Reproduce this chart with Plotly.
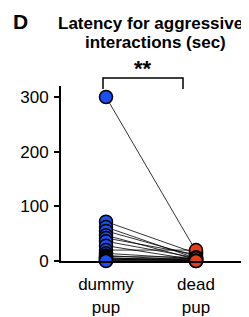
import plotly.graph_objects as go

categories = ["dummy<br>pup", "dead<br>pup"]
dummy_pup = [300, 72, 62, 55, 47, 42, 36, 28, 20, 14, 10, 8, 6, 5, 3, 2, 1, 0]
dead_pup = [18, 14, 5, 9, 3, 12, 6, 2, 20, 4, 1, 7, 0, 3, 2, 5, 1, 0]
y_ticks = [0, 100, 200, 300]

O = 8  # browser body margin offset
W, H = 249 - O, 317 - O
X0, XAX_END = 61, 243      # window px of y axis and x axis end
Y0, Y300 = 261, 97         # window px of value 0 and 300
TOPWIN = 86
XD, XR = 106, 196          # window px of categories

L = X0 - O
R = W - (XAX_END - O)
B = H - (Y0 - O)
T = TOPWIN - O
pw, ph = W - L - R, H - T - B

def px(x):
    return (x - O - L) / pw

def py(y):
    return (H - B - (y - O)) / ph

fig = go.Figure()
lx, ly = [], []
for a, b in zip(dummy_pup, dead_pup):
    lx += [0, 1, None]
    ly += [a, b, None]
fig.add_trace(go.Scatter(x=lx, y=ly, mode="lines", line=dict(color="black", width=0.8),
                         hoverinfo="skip", showlegend=False, cliponaxis=False))
fig.add_trace(go.Scatter(x=[0] * len(dummy_pup), y=dummy_pup, mode="markers",
                         marker=dict(size=13, color="#1c4ff2", line=dict(color="black", width=1.5)),
                         showlegend=False, cliponaxis=False))
fig.add_trace(go.Scatter(x=[1] * len(dead_pup), y=dead_pup, mode="markers",
                         marker=dict(size=13, color="#e63e1b", line=dict(color="black", width=1.5)),
                         showlegend=False, cliponaxis=False))

scale = (XR - XD)
xmin = -(XD - X0) / scale
xmax = 1 + (XAX_END - XR) / scale
ymax = ph * 300 / (Y0 - Y300)

fig.update_layout(
    width=W, height=H,
    margin=dict(l=L, r=R, t=T, b=B, autoexpand=False),
    paper_bgcolor="white", plot_bgcolor="white",
    font=dict(family="Liberation Sans, Arial, sans-serif", size=17, color="black"),
    xaxis=dict(range=[xmin, xmax], tickmode="array", tickvals=[0, 1], ticktext=categories,
               showgrid=False, zeroline=False, showline=True, linecolor="black", linewidth=2,
               ticks="", tickfont=dict(size=17), automargin=False, ticklabelstandoff=7),
    yaxis=dict(range=[0, ymax], tickmode="array", tickvals=y_ticks,
               showgrid=False, zeroline=False, showline=True, linecolor="black", linewidth=2,
               ticks="outside", ticklen=5, tickwidth=2, tickcolor="black", tickfont=dict(size=17),
               automargin=False, ticklabelstandoff=2),
    annotations=[
        dict(text="<b>D</b>", x=px(20.5), y=py(21), xref="paper", yref="paper", showarrow=False,
             xanchor="center", yanchor="middle", font=dict(size=21)),
        dict(text="<b>Latency for aggressive</b>", x=px(150), y=py(24), xref="paper", yref="paper",
             showarrow=False, xanchor="center", yanchor="middle", font=dict(size=17)),
        dict(text="<b>interactions (sec)</b>", x=px(155), y=py(43), xref="paper", yref="paper",
             showarrow=False, xanchor="center", yanchor="middle", font=dict(size=17)),
        dict(text="<b>**</b>", x=px(142.5), y=py(68.5), xref="paper", yref="paper",
             showarrow=False, xanchor="center", yanchor="middle", font=dict(size=22)),
    ],
    shapes=[
        dict(type="path", xref="paper", yref="paper",
             path=f"M {px(103)},{py(89)} L {px(103)},{py(78)} L {px(183)},{py(78)} L {px(183)},{py(89)}",
             line=dict(color="black", width=1.5)),
    ],
)

fig.write_html("out.html")
